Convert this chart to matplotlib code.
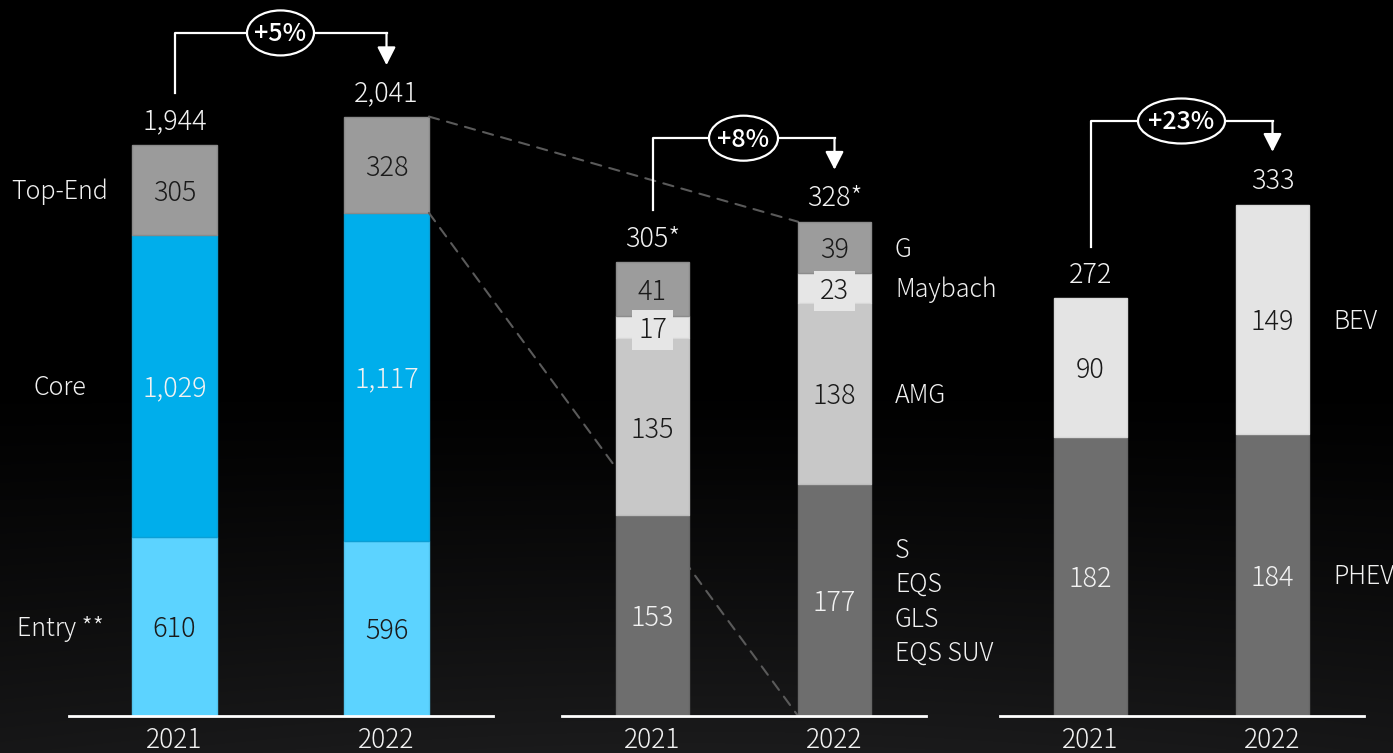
import numpy as np
import matplotlib
matplotlib.use('Agg')
import matplotlib.pyplot as plt
from matplotlib.patches import Ellipse, ConnectionPatch
from matplotlib.transforms import ScaledTranslation, blended_transform_factory
from matplotlib.lines import Line2D

plt.rcParams['font.family'] = ['Noto Sans CJK JP', 'DejaVu Sans']

# ---------------- data ----------------
years = ['2021', '2022']

# Panel 1: total sales by segment
p1_labels = ['Entry **', 'Core', 'Top-End']
p1_entry = [610, 596]
p1_core = [1029, 1117]
p1_topend = [305, 328]
p1_totals = ['1,944', '2,041']

# Panel 2: Top-End breakdown
p2_labels = ['S\nEQS\nGLS\nEQS SUV', 'AMG', 'Maybach', 'G']
p2_s = [153, 177]
p2_amg = [135, 138]
p2_maybach = [17, 23]
p2_g = [41, 39]
p2_totals = ['305*', '328*']

# Panel 3: xEV
p3_labels = ['PHEV', 'BEV']
p3_phev = [182, 184]
p3_bev = [90, 149]
p3_totals = ['272', '333']

growth = ['+5%', '+8%', '+23%']

# ---------------- figure ----------------
W, H, DPI = 1393, 753, 100
fig = plt.figure(figsize=(W / DPI, H / DPI), dpi=DPI, facecolor='black')

# background gradient
bg = fig.add_axes([0, 0, 1, 1], zorder=-10)
yy = np.linspace(0, 1, H)[:, None]
xx = np.linspace(0, 1, W)[None, :]
t = np.clip((yy - 0.50) / 0.50, 0, 1) ** 1.2
v = 0.105 * t * (0.85 + 0.15 * np.sin(np.pi * xx))
img = np.dstack([v, v, v * 1.04])
bg.imshow(np.clip(img, 0, 1), aspect='auto', extent=[0, 1, 0, 1], origin='upper')
bg.set_axis_off()

BASE = 716  # baseline pixel row
bot = (H - BASE) / H
hgt = BASE / H

def make_ax(left_px, width_px, px_per_unit):
    ax = fig.add_axes([left_px / W, bot, width_px / W, hgt])
    ax.set_facecolor('none')
    ax.set_xlim(-0.5, 1.5)
    ax.set_ylim(0, BASE / px_per_unit)
    ax.set_axis_off()
    ax.axhline(0, color='white', lw=2.0, clip_on=False, zorder=5)
    return ax

ax1 = make_ax(68.5, 424, 0.2937)
ax2 = make_ax(561.5, 364, 1.311)
ax3 = make_ax(999.5, 364, 1.535)

x = np.arange(2)
BW = 0.40
FS = 19.5
FW = 'light'
DARK = '#1a1a1a'
WHITE = '#f2f2f2'


def stack(ax, series, colors, edges, tcolors, boxes=None):
    bottom = np.zeros(2)
    mids = []
    for i, (vals, c, e, tc) in enumerate(zip(series, colors, edges, tcolors)):
        vals = np.array(vals, dtype=float)
        ax.bar(x, vals, width=BW, bottom=bottom, color=c, edgecolor=e,
               linewidth=1.0, zorder=2)
        for xi, vv, b in zip(x, vals, bottom):
            kw = {}
            if boxes is not None and boxes[i]:
                kw['bbox'] = dict(boxstyle='square,pad=0.22', fc=c, ec='none')
            ax.annotate(f'{int(vv):,}', xy=(xi, b + vv / 2), xytext=(0, -2),
                        textcoords='offset points', ha='center', va='center',
                        fontsize=FS, fontweight=FW, color=tc, zorder=4, **kw)
        mids.append(bottom + vals / 2)
        bottom = bottom + vals
    return bottom, mids


def totals(ax, tops, labels):
    for xi, tp, lb in zip(x, tops, labels):
        ax.annotate(lb, xy=(xi, tp), xytext=(0, 17), textcoords='offset points',
                    ha='center', va='center', fontsize=FS, fontweight=FW, color=WHITE)


def years_lbl(ax):
    for xi, yr in zip(x, years):
        ax.annotate(yr, xy=(xi, 0), xytext=(0, -17.5), textcoords='offset points',
                    ha='center', va='center', fontsize=FS - 0.5, fontweight=FW,
                    color=WHITE, annotation_clip=False)


def side_label(ax, xpos, ypos, text, ha, ls=1.2):
    ax.annotate(text, xy=(xpos, ypos), xytext=(0, -1.5), textcoords='offset points',
                ha=ha, va='center', fontsize=FS - 1.5, fontweight=FW, color=WHITE,
                linespacing=ls, annotation_clip=False)


def bracket(ax, y_start, y_level, y_tip, text, ell_w):
    tr = blended_transform_factory(ax.transData, ax.transAxes)
    ax.add_line(Line2D([0, 0, 1], [y_start, y_level, y_level], color='white',
                       lw=1.6, transform=tr, clip_on=False, zorder=6))
    ax.annotate('', xy=(1, y_tip), xytext=(1, y_level), xycoords=tr, textcoords=tr,
                arrowprops=dict(arrowstyle='-|>,head_length=0.55,head_width=0.28',
                                color='white', lw=1.6, mutation_scale=20,
                                shrinkA=0, shrinkB=0), zorder=6, annotation_clip=False)
    off = ScaledTranslation(0.5, y_level, tr)
    ell = Ellipse((0, 0), width=ell_w / DPI, height=0.45,
                  transform=fig.dpi_scale_trans + off, facecolor='black',
                  edgecolor='white', lw=1.6, zorder=7, clip_on=False)
    ax.add_patch(ell)
    ax.annotate(text, xy=(0.5, y_level), xycoords=tr, xytext=(0, -1),
                textcoords='offset points', ha='center', va='center',
                fontsize=18, color='white', fontweight='medium', zorder=8,
                annotation_clip=False)


# ---------------- panel 1 ----------------
tops1, mids1 = stack(ax1, [p1_entry, p1_core, p1_topend],
                     ['#5cd3ff', '#00aeeb', '#9b9b9b'],
                     ['#52c4ee', '#0a9fd6', '#8a8a8a'],
                     [DARK, WHITE, DARK])
totals(ax1, tops1, p1_totals)
years_lbl(ax1)
for lb, m in zip(p1_labels, mids1):
    side_label(ax1, -0.54, m[0], lb, 'center')
bracket(ax1, 0.870, 0.954, 0.909, growth[0], 67)

# ---------------- panel 2 ----------------
tops2, mids2 = stack(ax2, [p2_s, p2_amg, p2_maybach, p2_g],
                     ['#6e6e6e', '#c8c8c8', '#e6e6e6', '#9c9c9c'],
                     ['#666666', '#bdbdbd', '#d8d8d8', '#8c8c8c'],
                     [WHITE, DARK, DARK, DARK],
                     boxes=[False, False, True, False])
totals(ax2, tops2, p2_totals)
years_lbl(ax2)
for lb, m in zip(p2_labels, mids2):
    side_label(ax2, 1.332, m[1], lb, 'left', ls=1.39)
bracket(ax2, 0.707, 0.807, 0.763, growth[1], 69)

# ---------------- panel 3 ----------------
tops3, mids3 = stack(ax3, [p3_phev, p3_bev],
                     ['#6e6e6e', '#e4e4e4'],
                     ['#666666', '#d8d8d8'],
                     [WHITE, DARK])
totals(ax3, tops3, p3_totals)
years_lbl(ax3)
for lb, m in zip(p3_labels, mids3):
    side_label(ax3, 1.332, m[1], lb, 'left')
bracket(ax3, 0.655, 0.831, 0.788, growth[2], 87)

# ---------------- dashed connectors ----------------
top_end_bottom = p1_entry[1] + p1_core[1]
c1 = ConnectionPatch(xyA=(1 + BW / 2, tops1[1]), coordsA=ax1.transData,
                     xyB=(1 - BW / 2, tops2[1]), coordsB=ax2.transData,
                     color='#5a5a5a', lw=1.5, ls=(0, (5, 4)), zorder=1)
c2 = ConnectionPatch(xyA=(1 + BW / 2, top_end_bottom), coordsA=ax1.transData,
                     xyB=(1 - BW / 2, 0), coordsB=ax2.transData,
                     color='#5a5a5a', lw=1.5, ls=(0, (5, 4)), zorder=1)
ax2.add_artist(c1)
ax2.add_artist(c2)

fig.savefig('out.png', dpi=DPI, facecolor='black')
